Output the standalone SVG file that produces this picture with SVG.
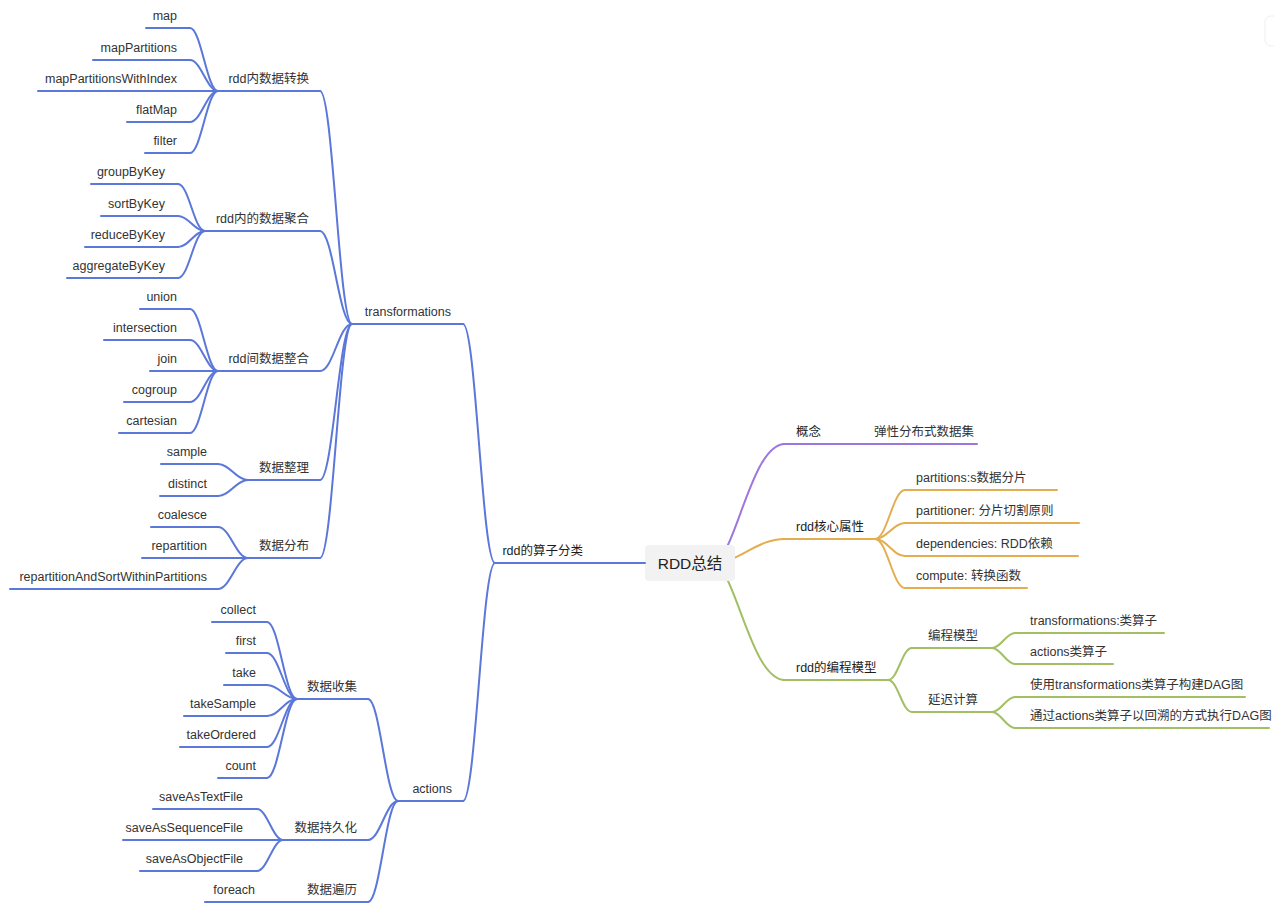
<svg xmlns="http://www.w3.org/2000/svg" width="1274" height="909" viewBox="0 0 1274 909">
<style>
text{font-family:"Liberation Sans","Noto Sans CJK SC",sans-serif;font-size:12.5px;fill:#333}
.e{text-anchor:end}
.l1{fill:#1c1c1c}
.root{font-size:15.5px;fill:#222;text-anchor:middle}
path,line{fill:none;stroke-width:2;stroke-linecap:round}
.b{stroke:#5b77d9}
.p{stroke:#9e76e0}
.o{stroke:#e3ad50}
.g{stroke:#a2bf64}
</style>
<rect x="1265" y="16" width="24" height="30" rx="6" fill="#fff" stroke="#efefef"/>
<g id="connectors">
<!-- root to level 1 -->
<path class="b" d="M495 563 H645"/>
<path class="p" d="M712 563 C735 563 750 444 785 444"/>
<path class="o" d="M712 563 C740 563 755 539 785 539"/>
<path class="g" d="M712 563 C735 563 750 680 785 680"/>
<!-- rdd的算子分类 -->
<path class="b" d="M495 563 C482 563 476 324 463 324"/>
<path class="b" d="M495 563 C482 563 476 801 463 801"/>
<!-- transformations -->
<path class="b" d="M352 324 C339 324 333 91 320 91"/>
<path class="b" d="M352 324 C339 324 333 231 320 231"/>
<path class="b" d="M352 324 C339 324 333 371 320 371"/>
<path class="b" d="M352 324 C339 324 333 480 320 480"/>
<path class="b" d="M352 324 C339 324 333 558 320 558"/>
<!-- rdd内数据转换 -->
<path class="b" d="M218 91 C207 91 201 28 190 28"/>
<path class="b" d="M218 91 C207 91 201 60 190 60"/>
<path class="b" d="M218 91 C207 91 201 122 190 122"/>
<path class="b" d="M218 91 C207 91 201 153 190 153"/>
<!-- rdd内的数据聚合 -->
<path class="b" d="M205 231 C194 231 189 184 178 184"/>
<path class="b" d="M205 231 C194 231 189 216 178 216"/>
<path class="b" d="M205 231 C194 231 189 247 178 247"/>
<path class="b" d="M205 231 C194 231 189 278 178 278"/>
<!-- rdd间数据整合 -->
<path class="b" d="M218 371 C207 371 201 309 190 309"/>
<path class="b" d="M218 371 C207 371 201 340 190 340"/>
<path class="b" d="M218 371 C207 371 201 402 190 402"/>
<path class="b" d="M218 371 C207 371 201 433 190 433"/>
<!-- 数据整理 / 数据分布 -->
<path class="b" d="M248 480 C236 480 230 464 218 464"/>
<path class="b" d="M248 480 C236 480 230 496 218 496"/>
<path class="b" d="M248 558 C236 558 230 527 218 527"/>
<path class="b" d="M248 558 C236 558 230 589 218 589"/>
<!-- actions -->
<path class="b" d="M398 801 C386 801 380 699 368 699"/>
<path class="b" d="M398 801 C386 801 380 840 368 840"/>
<path class="b" d="M398 801 C386 801 380 902 368 902"/>
<!-- 数据收集 -->
<path class="b" d="M297 699 C285 699 279 622 267 622"/>
<path class="b" d="M297 699 C285 699 279 653 267 653"/>
<path class="b" d="M297 699 C285 699 279 685 267 685"/>
<path class="b" d="M297 699 C285 699 279 716 267 716"/>
<path class="b" d="M297 699 C285 699 279 747 267 747"/>
<path class="b" d="M297 699 C285 699 279 778 267 778"/>
<!-- 数据持久化 -->
<path class="b" d="M283 840 C273 840 267 809 257 809"/>
<path class="b" d="M283 840 C273 840 267 871 257 871"/>
<!-- rdd核心属性 -->
<path class="o" d="M875 539 C887 539 893 490 905 490"/>
<path class="o" d="M875 539 C887 539 893 523 905 523"/>
<path class="o" d="M875 539 C887 539 893 556 905 556"/>
<path class="o" d="M875 539 C887 539 893 588 905 588"/>
<!-- rdd的编程模型 -->
<path class="g" d="M888 680 C898 680 902 648 912 648"/>
<path class="g" d="M888 680 C898 680 902 712 912 712"/>
<path class="g" d="M992 648 C1001 648 1006 633 1015 633"/>
<path class="g" d="M992 648 C1001 648 1006 664 1015 664"/>
<path class="g" d="M992 712 C1001 712 1006 697 1015 697"/>
<path class="g" d="M992 712 C1001 712 1006 728 1015 728"/>
</g>

<g id="root"><rect x="645" y="545" width="90" height="36" rx="4" fill="#f2f2f2"/><text class="root" x="690" y="568.5">RDD总结</text></g>

<g id="n-suanzi"><line class="b" x1="495" y1="563" x2="645" y2="563"/><text class="e l1" x="583" y="555">rdd的算子分类</text></g>
<g id="n-transformations"><line class="b" x1="352" y1="324" x2="463" y2="324"/><text class="e" x="451" y="316">transformations</text></g>
<g id="n-actions"><line class="b" x1="398" y1="801" x2="463" y2="801"/><text class="e" x="452" y="793">actions</text></g>

<g id="n-zhuanhuan"><line class="b" x1="218" y1="91" x2="320" y2="91"/><text class="e" x="309" y="83">rdd内数据转换</text></g>
<g id="n-map"><line class="b" x1="146" y1="28" x2="190" y2="28"/><text class="e" x="177" y="20">map</text></g>
<g id="n-mapPartitions"><line class="b" x1="93" y1="60" x2="190" y2="60"/><text class="e" x="177" y="52">mapPartitions</text></g>
<g id="n-mapPartitionsWithIndex"><line class="b" x1="38" y1="91" x2="218" y2="91"/><text class="e" x="177" y="83">mapPartitionsWithIndex</text></g>
<g id="n-flatMap"><line class="b" x1="127" y1="122" x2="190" y2="122"/><text class="e" x="177" y="114">flatMap</text></g>
<g id="n-filter"><line class="b" x1="145" y1="153" x2="190" y2="153"/><text class="e" x="177" y="145">filter</text></g>

<g id="n-juhe"><line class="b" x1="205" y1="231" x2="320" y2="231"/><text class="e" x="309" y="223">rdd内的数据聚合</text></g>
<g id="n-groupByKey"><line class="b" x1="91" y1="184" x2="178" y2="184"/><text class="e" x="165" y="176">groupByKey</text></g>
<g id="n-sortByKey"><line class="b" x1="101" y1="216" x2="178" y2="216"/><text class="e" x="165" y="208">sortByKey</text></g>
<g id="n-reduceByKey"><line class="b" x1="85" y1="247" x2="178" y2="247"/><text class="e" x="165" y="239">reduceByKey</text></g>
<g id="n-aggregateByKey"><line class="b" x1="67" y1="278" x2="178" y2="278"/><text class="e" x="165" y="270">aggregateByKey</text></g>

<g id="n-zhenghe"><line class="b" x1="218" y1="371" x2="320" y2="371"/><text class="e" x="309" y="363">rdd间数据整合</text></g>
<g id="n-union"><line class="b" x1="140" y1="309" x2="190" y2="309"/><text class="e" x="177" y="301">union</text></g>
<g id="n-intersection"><line class="b" x1="104" y1="340" x2="190" y2="340"/><text class="e" x="177" y="332">intersection</text></g>
<g id="n-join"><line class="b" x1="150" y1="371" x2="218" y2="371"/><text class="e" x="177" y="363">join</text></g>
<g id="n-cogroup"><line class="b" x1="124" y1="402" x2="190" y2="402"/><text class="e" x="177" y="394">cogroup</text></g>
<g id="n-cartesian"><line class="b" x1="119" y1="433" x2="190" y2="433"/><text class="e" x="177" y="425">cartesian</text></g>

<g id="n-zhengli"><line class="b" x1="248" y1="480" x2="320" y2="480"/><text class="e" x="309" y="472">数据整理</text></g>
<g id="n-sample"><line class="b" x1="161" y1="464" x2="218" y2="464"/><text class="e" x="207" y="456">sample</text></g>
<g id="n-distinct"><line class="b" x1="160" y1="496" x2="218" y2="496"/><text class="e" x="207" y="488">distinct</text></g>

<g id="n-fenbu"><line class="b" x1="248" y1="558" x2="320" y2="558"/><text class="e" x="309" y="550">数据分布</text></g>
<g id="n-coalesce"><line class="b" x1="151" y1="527" x2="218" y2="527"/><text class="e" x="207" y="519">coalesce</text></g>
<g id="n-repartition"><line class="b" x1="142" y1="558" x2="248" y2="558"/><text class="e" x="207" y="550">repartition</text></g>
<g id="n-repartitionAndSort"><line class="b" x1="10" y1="589" x2="218" y2="589"/><text class="e" x="207" y="581">repartitionAndSortWithinPartitions</text></g>

<g id="n-shouji"><line class="b" x1="297" y1="699" x2="368" y2="699"/><text class="e" x="357" y="691">数据收集</text></g>
<g id="n-collect"><line class="b" x1="212" y1="622" x2="267" y2="622"/><text class="e" x="256" y="614">collect</text></g>
<g id="n-first"><line class="b" x1="226" y1="653" x2="267" y2="653"/><text class="e" x="256" y="645">first</text></g>
<g id="n-take"><line class="b" x1="224" y1="685" x2="267" y2="685"/><text class="e" x="256" y="677">take</text></g>
<g id="n-takeSample"><line class="b" x1="184" y1="716" x2="267" y2="716"/><text class="e" x="256" y="708">takeSample</text></g>
<g id="n-takeOrdered"><line class="b" x1="180" y1="747" x2="267" y2="747"/><text class="e" x="256" y="739">takeOrdered</text></g>
<g id="n-count"><line class="b" x1="218" y1="778" x2="267" y2="778"/><text class="e" x="256" y="770">count</text></g>

<g id="n-chijiuhua"><line class="b" x1="283" y1="840" x2="368" y2="840"/><text class="e" x="357" y="832">数据持久化</text></g>
<g id="n-saveAsTextFile"><line class="b" x1="153" y1="809" x2="257" y2="809"/><text class="e" x="243" y="801">saveAsTextFile</text></g>
<g id="n-saveAsSequenceFile"><line class="b" x1="123" y1="840" x2="283" y2="840"/><text class="e" x="243" y="832">saveAsSequenceFile</text></g>
<g id="n-saveAsObjectFile"><line class="b" x1="140" y1="871" x2="257" y2="871"/><text class="e" x="243" y="863">saveAsObjectFile</text></g>

<g id="n-bianli"><line class="b" x1="283" y1="902" x2="368" y2="902"/><text class="e" x="357" y="894">数据遍历</text></g>
<g id="n-foreach"><line class="b" x1="205" y1="902" x2="283" y2="902"/><text class="e" x="255" y="894">foreach</text></g>

<g id="n-gainian"><line class="p" x1="783" y1="444" x2="860" y2="444"/><text class="l1" x="796" y="436">概念</text></g>
<g id="n-tanxing"><line class="p" x1="860" y1="444" x2="977" y2="444"/><text x="874" y="436">弹性分布式数据集</text></g>

<g id="n-hexin"><line class="o" x1="783" y1="539" x2="875" y2="539"/><text class="l1" x="796" y="531">rdd核心属性</text></g>
<g id="n-partitions"><line class="o" x1="905" y1="490" x2="1057" y2="490"/><text x="916" y="482">partitions:s数据分片</text></g>
<g id="n-partitioner"><line class="o" x1="905" y1="523" x2="1079" y2="523"/><text x="916" y="515">partitioner: 分片切割原则</text></g>
<g id="n-dependencies"><line class="o" x1="905" y1="556" x2="1078" y2="556"/><text x="916" y="548">dependencies: RDD依赖</text></g>
<g id="n-compute"><line class="o" x1="905" y1="588" x2="1027" y2="588"/><text x="916" y="580">compute: 转换函数</text></g>

<g id="n-biancheng"><line class="g" x1="783" y1="680" x2="888" y2="680"/><text class="l1" x="796" y="672">rdd的编程模型</text></g>
<g id="n-moxing"><line class="g" x1="912" y1="648" x2="992" y2="648"/><text x="928" y="640">编程模型</text></g>
<g id="n-tlei"><line class="g" x1="1015" y1="633" x2="1164" y2="633"/><text x="1030" y="625">transformations:类算子</text></g>
<g id="n-alei"><line class="g" x1="1015" y1="664" x2="1113" y2="664"/><text x="1030" y="656">actions类算子</text></g>
<g id="n-yanchi"><line class="g" x1="912" y1="712" x2="992" y2="712"/><text x="928" y="704">延迟计算</text></g>
<g id="n-shiyong"><line class="g" x1="1015" y1="697" x2="1245" y2="697"/><text x="1030" y="689">使用transformations类算子构建DAG图</text></g>
<g id="n-tongguo"><line class="g" x1="1015" y1="728" x2="1269" y2="728"/><text x="1030" y="720">通过actions类算子以回溯的方式执行DAG图</text></g>
</svg>
